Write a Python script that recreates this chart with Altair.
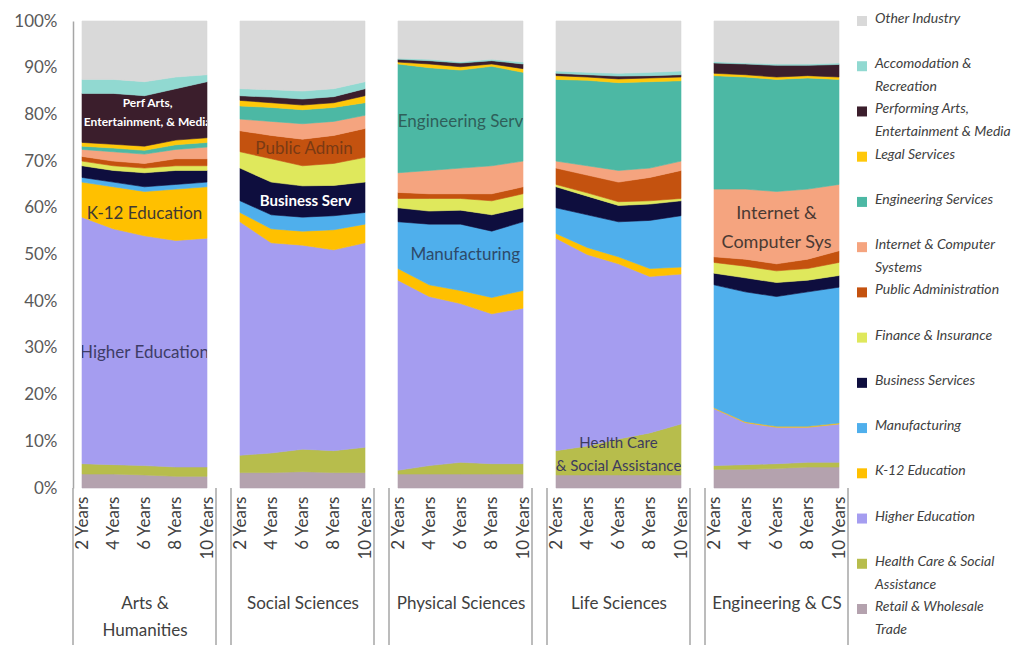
import altair as alt
import pandas as pd

years = [2, 4, 6, 8, 10]
panels = ["Arts & Humanities", "Social Sciences", "Physical Sciences", "Life Sciences", "Engineering & CS"]
panel_titles = [["Arts &", "Humanities"], "Social Sciences", "Physical Sciences", "Life Sciences", "Engineering & CS"]

# stacking order, bottom to top
industries = [
    "Retail & Wholesale Trade", "Health Care & Social Assistance", "Higher Education",
    "K-12 Education", "Manufacturing", "Business Services", "Finance & Insurance",
    "Public Administration", "Internet & Computer Systems", "Engineering Services",
    "Legal Services", "Performing Arts, Entertainment & Media", "Accomodation & Recreation",
    "Other Industry",
]
colors = [
    "#B4A2AE", "#B7BD4C", "#A59DF0", "#FFC000", "#4FAFEC", "#0E0E3E", "#DFE85C",
    "#C4520F", "#F5A47F", "#4CB8A4", "#FFC80A", "#3B1E2C", "#91D9D1", "#D9D9D9",
]
legend_labels = {
    "Other Industry": "Other Industry",
    "Accomodation & Recreation": "Accomodation &|Recreation",
    "Performing Arts, Entertainment & Media": "Performing Arts,|Entertainment & Media",
    "Legal Services": "Legal Services",
    "Engineering Services": "Engineering Services",
    "Internet & Computer Systems": "Internet & Computer|Systems",
    "Public Administration": "Public Administration",
    "Finance & Insurance": "Finance & Insurance",
    "Business Services": "Business Services",
    "Manufacturing": "Manufacturing",
    "K-12 Education": "K-12 Education",
    "Higher Education": "Higher Education",
    "Health Care & Social Assistance": "Health Care & Social|Assistance",
    "Retail & Wholesale Trade": "Retail & Wholesale|Trade",
}

# cumulative top (%) of each band, bottom to top, at 2/4/6/8/10 years
arts_tops = [
    [3.0, 3.0, 2.8, 2.5, 2.5], [5.2, 5.0, 4.8, 4.5, 4.5], [58, 55.5, 54, 53, 53.5],
    [65.5, 64.5, 63.5, 64, 64.5], [66.5, 65.5, 64.5, 65, 65.5], [69, 68, 67.5, 68, 68],
    [70, 69, 68.5, 69, 69], [71, 70, 69.5, 70.5, 70.5], [72.5, 72, 71.5, 72.5, 73],
    [73.2, 72.8, 72.3, 73.5, 74], [74, 73.6, 73.2, 74.5, 75], [84.5, 84.5, 84, 85.5, 87],
    [87.5, 87.5, 87, 88, 88.5], [100, 100, 100, 100, 100],
]
social_tops = [
    [3.3, 3.3, 3.5, 3.3, 3.3], [7.0, 7.5, 8.3, 8.0, 8.7], [57, 52.5, 52, 51, 52.5],
    [59, 55.5, 55, 55.3, 56.5], [61.5, 58.5, 58, 58.3, 59], [68.5, 65.5, 64.7, 64.8, 65.5],
    [72, 70.5, 69, 69.5, 70.8], [76.5, 75.5, 74.7, 75.5, 77], [79, 78.5, 78, 78.5, 79.8],
    [81.8, 81.5, 81, 81.5, 82.5], [83, 82.5, 82, 82.5, 84], [84, 83.7, 83.3, 83.8, 85.5],
    [85.5, 85.3, 85, 85.5, 87], [100, 100, 100, 100, 100],
]
physical_tops = [
    [3, 3, 3, 3, 3], [3.8, 4.8, 5.5, 5.2, 5.2], [44.5, 41, 39.5, 37.3, 38.5],
    [47, 43.5, 42.3, 40.8, 42.3], [57, 56.5, 56.5, 55, 57], [60, 59.3, 59.5, 58.5, 60],
    [62, 62, 62, 61.5, 63], [63.3, 63, 63, 63, 64.5], [67.5, 68, 68.5, 69, 70],
    [90.8, 90, 89.5, 90.3, 89], [91.2, 90.8, 90.2, 90.8, 89.8], [91.8, 91.5, 91, 91.5, 90.8],
    [92, 91.8, 91.3, 91.8, 91.2], [100, 100, 100, 100, 100],
]
life_tops = [
    [2.8, 2.8, 2.8, 2.8, 2.8], [8, 9, 10.5, 11.8, 13.7], [53.5, 50, 48, 45.3, 45.8],
    [54.5, 51.5, 49.5, 47, 47.3], [60, 58.5, 57, 57.3, 58.3], [64.5, 62.5, 60.5, 60.8, 61.5],
    [65, 63.2, 61.3, 61.5, 62], [68.5, 67, 65.5, 66.5, 68], [70, 69, 68, 68.5, 70],
    [87.5, 87.3, 86.8, 87, 87.2], [88.3, 88, 87.6, 87.8, 88], [88.8, 88.5, 88.2, 88.3, 88.5],
    [89.3, 89, 88.8, 89, 89.3], [100, 100, 100, 100, 100],
]
eng_tops = [
    [4, 4, 4.2, 4.5, 4.5], [4.8, 5, 5.2, 5.5, 5.5], [17, 14, 13, 13, 13.7],
    [17.2, 14.2, 13.2, 13.2, 13.9], [43.5, 42, 41, 42, 43], [46, 45, 44, 44.5, 45.5],
    [48.3, 47.5, 46.5, 47, 48.3], [49.5, 49, 48, 49, 50.8], [64, 64, 63.5, 64, 65],
    [88.3, 88, 87.5, 87.8, 87.5], [88.8, 88.5, 88, 88.3, 88], [91, 90.8, 90.5, 90.5, 90.7],
    [91.3, 91, 90.8, 90.8, 91], [100, 100, 100, 100, 100],
]
all_tops = [arts_tops, social_tops, physical_tops, life_tops, eng_tops]

# in-panel labels: (panel index, text, year position, percent position of first line)
annotations = [
    (0, "Perf Arts,|Entertainment, & Media", 6.2, 82.4, "white", 12, "bold", 19),
    (0, "K-12 Education", 6.0, 58.7, "#3F3A33", 17, "normal", 20),
    (0, "Higher Education", 6.0, 28.9, "#3E3C66", 17, "normal", 20),
    (1, "Public Admin", 6.1, 72.6, "#7A3A14", 17, "normal", 20),
    (1, "Business Serv", 6.2, 61.5, "white", 15, "bold", 20),
    (2, "Engineering Serv", 6.0, 78.4, "#2F5F5A", 17, "normal", 20),
    (2, "Manufacturing", 6.3, 49.9, "#2D4A6A", 17, "normal", 20),
    (3, "Health Care|& Social Assistance", 6.0, 9.6, "#3D3B5E", 15, "normal", 23),
    (4, "Internet &|Computer Sys", 6.0, 58.7, "#4B3A33", 18, "normal", 29),
]

rows = []
for p, tops in zip(panels, all_tops):
    for k, ind in enumerate(industries):
        for j, yr in enumerate(years):
            lo = 0 if k == 0 else tops[k - 1][j]
            rows.append({"panel": p, "industry": ind, "year": yr, "lo": lo, "hi": tops[k][j]})
df = pd.DataFrame(rows)

color_scale = alt.Scale(domain=industries, range=colors)
GRAY = "#A6A6A6"
W, H = 125, 467
xscale = alt.Scale(domain=[2, 10], nice=False, zero=False)
yscale = alt.Scale(domain=[0, 100], nice=False)


def make_panel(i):
    d = df[df.panel == panels[i]]
    if i == 0:
        yaxis = alt.Axis(values=list(range(0, 101, 10)), labelExpr="datum.value + '%'",
                         offset=9, domain=True, domainColor=GRAY, domainWidth=1.5,
                         ticks=False, grid=False, labelFontSize=17, labelColor="#595959",
                         labelPadding=16, labelOverlap=False, title=None)
    else:
        yaxis = None
    xaxis = alt.Axis(values=years, labelExpr="datum.value + ' Years'", labelAngle=-90,
                     labelFlush=False, labelOverlap=False, labelBound=False,
                     labelFontSize=17, labelColor="#404040", labelPadding=8,
                     ticks=False, domain=False, grid=False, title=panel_titles[i],
                     titleFontSize=17, titleFontWeight="normal", titleColor="#404040",
                     titlePadding=36, titleLineHeight=27)
    area = alt.Chart(d).mark_area(interpolate="linear", opacity=1, strokeWidth=0.6).encode(
        x=alt.X("year:Q", scale=xscale, axis=xaxis),
        y=alt.Y("lo:Q", scale=yscale, axis=yaxis),
        y2="hi:Q",
        color=alt.Color("industry:N", scale=color_scale, legend=None),
        stroke=alt.Stroke("industry:N", scale=color_scale, legend=None),
    )
    layers = [area]
    for (pi, txt, ax, ay, col, fs, fw, lh) in annotations:
        if pi != i:
            continue
        adf = pd.DataFrame({"year": [ax], "lo": [ay], "label": [txt]})
        layers.append(
            alt.Chart(adf).mark_text(color=col, fontSize=fs, fontWeight=fw, lineBreak="|",
                                     lineHeight=lh, align="center", baseline="middle",
                                     clip=True).encode(
                x=alt.X("year:Q", scale=xscale, axis=xaxis),
                y=alt.Y("lo:Q", scale=yscale, axis=yaxis),
                text="label:N")
        )
    left = alt.Chart(pd.DataFrame({"a": [0]})).mark_rule(color=GRAY, strokeWidth=1.5).encode(
        x=alt.value(-9), y=alt.value(H), y2=alt.value(H + 157))
    right = alt.Chart(pd.DataFrame({"a": [0]})).mark_rule(color=GRAY, strokeWidth=1.5).encode(
        x=alt.value(W + 9), y=alt.value(H), y2=alt.value(H + 157))
    layers += [left, right]
    return alt.layer(*layers).properties(width=W, height=H)


panel_charts = [make_panel(i) for i in range(5)]

top_to_bottom = industries[::-1]
leg_df = pd.DataFrame({
    "industry": top_to_bottom,
    "label": [legend_labels[n] for n in top_to_bottom],
    "pos": list(range(len(top_to_bottom))),
})
leg_base = alt.Chart(leg_df).encode(
    y=alt.Y("pos:Q", scale=alt.Scale(domain=[0, 13], reverse=True, nice=False, zero=False),
            axis=None))
leg_sq = leg_base.mark_square(size=100, opacity=1).encode(
    x=alt.value(-10), color=alt.Color("industry:N", scale=color_scale, legend=None))
leg_tx = leg_base.mark_text(align="left", baseline="top", dy=-9, fontStyle="italic", fontSize=14,
                            lineBreak="|", lineHeight=23, color="#404040").encode(
    x=alt.value(3), text="label:N")
legend = alt.layer(leg_sq, leg_tx).properties(width=135, height=588)

chart = alt.hconcat(*panel_charts, legend, spacing=33, bounds="flush",
                    padding={"left": 5, "top": 4, "right": 0, "bottom": 0}).configure(
    font="Lato").configure_view(stroke=None).configure_axis(labelOverlap=False)

chart.save("out.html", embed_options={"renderer": "svg", "actions": False})
